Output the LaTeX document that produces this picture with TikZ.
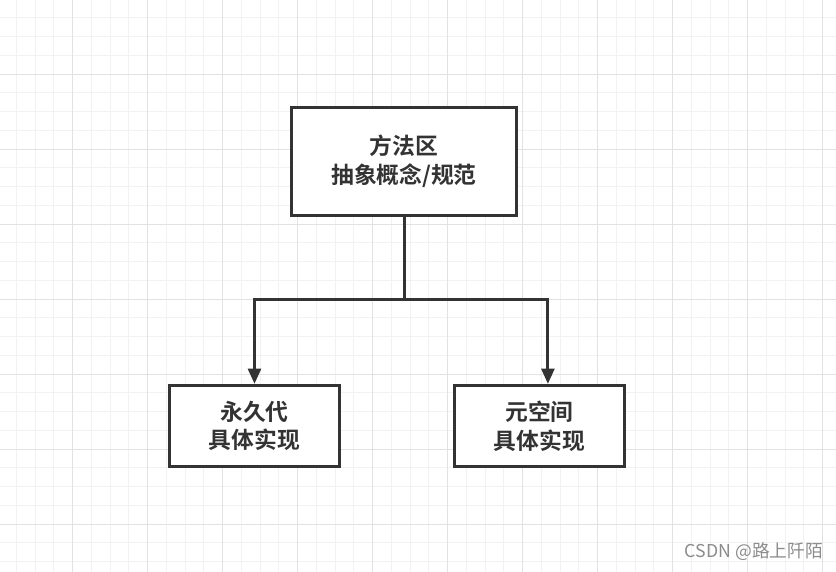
\documentclass[tikz,border=0pt]{standalone}
\usepackage{fontspec}
\newfontfamily\cjk[BoldFont={Noto Sans CJK SC Bold}]{Noto Sans CJK SC}
\usetikzlibrary{arrows.meta}
\definecolor{ink}{HTML}{333333}
\definecolor{gridminor}{HTML}{F2F2F2}
\definecolor{gridmajor}{HTML}{E2E2E2}
\definecolor{mark}{HTML}{8C8C8C}

\begin{document}
\begin{tikzpicture}[
  x=0.025cm, y=-0.025cm,
  >={Triangle[length=0.38cm,width=0.32cm]},
  box/.style={draw=ink, line width=0.075cm, fill=white, align=center,
    text=ink, font=\cjk\bfseries\fontsize{16.2}{20.3}\selectfont},
  link/.style={draw=ink, line width=0.075cm}
]
  \useasboundingbox[fill=white] (0,0) rectangle (836,572);
  % grid
  \foreach \i in {1,...,44}
    \draw[gridminor, line width=0.025cm] ({-2.5+18.75*\i},0) -- ++(0,572);
  \foreach \i in {1,...,30}
    \draw[gridminor, line width=0.025cm] (0,{-1+18.75*\i}) -- ++(836,0);
  \foreach \i in {1,...,11}
    \draw[gridmajor, line width=0.025cm] ({-2.5+75*\i},0) -- ++(0,572);
  \foreach \i in {1,...,7}
    \draw[gridmajor, line width=0.025cm] (0,{-1+75*\i}) -- ++(836,0);

  \node[box, minimum width=5.6cm, minimum height=2.7cm] (method) at (404,161.5) {方法区\\抽象概念/规范};
  \node[box, minimum width=4.25cm, minimum height=2.03cm] (perm) at (254.5,426) {永久代\\具体实现};
  \node[box, minimum width=4.25cm, minimum height=2.03cm] (meta) at (539.5,426) {元空间\\具体实现};
  \coordinate (fork) at (404,299);

  \draw[link] (method.south) -- (fork);
  \draw[link,->] (fork) -| (perm.north);
  \draw[link,->] (fork) -| ([xshift=0.21cm]meta.north);

  \node[anchor=west, text=mark, font=\cjk\fontsize{12.6}{13}\selectfont] (credit) at (680,552) {CSDN @路上阡陌};
\end{tikzpicture}
\end{document}
